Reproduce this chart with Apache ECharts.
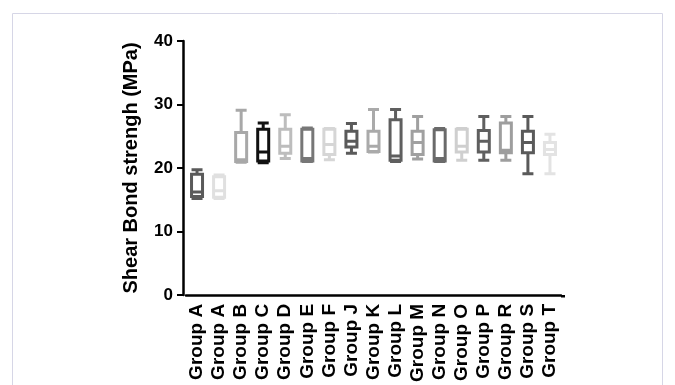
<!DOCTYPE html>
<html>
<head>
<meta charset="utf-8">
<script src="https://cdn.jsdelivr.net/npm/echarts@6/dist/echarts.min.js"></script>
<style>
  html, body { margin: 0; padding: 0; background: #fff; }
  #main { width: 675px; height: 385px; }
</style>
</head>
<body>
<div id="main"></div>
<script>
// 组别
var groups = ['Group A', 'Group A', 'Group B', 'Group C', 'Group D', 'Group E', 'Group F', 'Group J', 'Group K',
  'Group L', 'Group M', 'Group N', 'Group O', 'Group P', 'Group R', 'Group S', 'Group T'];
// 箱线图五个数
var mins    = [15.2, 15.2, 20.9, 20.8, 21.5, 21.0, 21.3, 22.3, 22.5, 21.0, 21.4, 21.0, 21.2, 21.2, 21.2, 19.1, 19.1];
var q1s     = [15.5, 15.4, 21.0, 21.1, 22.3, 21.1, 22.1, 23.3, 22.6, 21.2, 22.1, 21.1, 22.5, 22.5, 22.4, 22.4, 22.1];
var medians = [16.2, 16.4, 21.3, 22.5, 23.4, 21.5, 23.7, 24.2, 23.4, 21.9, 24.0, 21.5, 23.4, 24.2, 22.8, 24.0, 22.9];
var q3s     = [19.0, 18.6, 25.6, 26.1, 26.1, 26.1, 26.1, 25.8, 25.8, 27.6, 25.8, 26.0, 26.1, 25.9, 27.1, 25.8, 24.0];
var maxs    = [19.7, 18.9, 29.1, 27.1, 28.4, 26.3, 26.2, 27.0, 29.2, 29.2, 28.1, 26.2, 26.2, 28.1, 28.1, 28.1, 25.3];
var yTicks  = [0, 10, 20, 30, 40];

var boxColors = ['#5a5a5a', '#e0e0e0', '#a8a8a8', '#111111', '#bdbdbd', '#777777', '#d6d6d6', '#5a5a5a', '#aaaaaa',
  '#5f5f5f', '#a0a0a0', '#6a6a6a', '#cfcfcf', '#5f5f5f', '#9e9e9e', '#5a5a5a', '#e3e3e3'];

var boxData = [];
for (var i = 0; i < groups.length; i++) {
  boxData.push({
    value: [mins[i], q1s[i], medians[i], q3s[i], maxs[i]],
    itemStyle: { borderColor: boxColors[i], color: '#fff' }
  });
}

var myChart = echarts.init(document.getElementById('main'));

var option = {
  animation: false,
  textStyle: { fontFamily: 'Liberation Sans, Arial, sans-serif' },
  graphic: [{
    type: 'rect',
    shape: { x: 12.5, y: 13.5, width: 650, height: 380 },
    style: { fill: 'none', stroke: '#d6d6e6', lineWidth: 1 },
    silent: true
  }, {
    // x轴右端延长
    type: 'rect',
    shape: { x: 561, y: 295, width: 4, height: 2.5 },
    style: { fill: '#000' },
    silent: true
  }],
  grid: { left: 186, right: 114, top: 41, bottom: 89 },
  xAxis: {
    type: 'category',
    data: groups,
    axisLine: { lineStyle: { color: '#000', width: 2.5 } },
    axisTick: { alignWithLabel: true, interval: 0, length: 6, lineStyle: { color: '#000', width: 2 } },
    axisLabel: {
      interval: 0,
      rotate: 90,
      margin: 9,
      color: '#000',
      fontWeight: 'bold',
      fontSize: 19
    }
  },
  yAxis: {
    type: 'value',
    min: 0,
    max: 40,
    interval: 10,
    offset: 3,
    name: 'Shear Bond strengh (MPa)',
    nameLocation: 'middle',
    nameGap: 42,
    nameTextStyle: { color: '#000', fontWeight: 'bold', fontSize: 20 },
    axisLine: { show: true, lineStyle: { color: '#000', width: 2.5 } },
    axisTick: { show: true, length: 6, lineStyle: { color: '#000', width: 2 } },
    axisLabel: {
      color: '#000',
      fontWeight: 'bold',
      fontSize: 17,
      margin: 10,
      formatter: function (v) { return yTicks.indexOf(v) >= 0 ? String(v) : ''; }
    },
    splitLine: { show: false }
  },
  series: [{
    type: 'boxplot',
    boxWidth: [11, 11],
    itemStyle: { borderWidth: 3 },
    data: boxData
  }]
};

myChart.setOption(option);
</script>
</body>
</html>
